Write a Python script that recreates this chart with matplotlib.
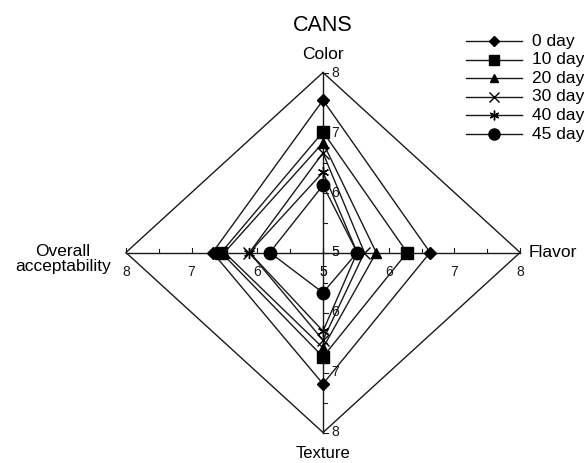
import matplotlib
matplotlib.use("Agg")
import matplotlib.pyplot as plt
import numpy as np

plt.rcParams['font.family'] = ['Liberation Sans', 'DejaVu Sans']

title = "CANS"
attributes = ["Color", "Flavor", "Texture", "Overall\nacceptability"]
series = ["0 day", "10 day", "20 day", "30 day", "40 day", "45 day"]
color_vals   = [7.54, 7.01, 6.83, 6.66, 6.34, 6.12]
flavor_vals  = [6.63, 6.28, 5.81, 5.63, 5.52, 5.52]
texture_vals = [7.19, 6.74, 6.59, 6.46, 6.31, 5.67]
overall_vals = [6.68, 6.55, 6.50, 6.12, 6.12, 5.81]
rmin, rmax = 5, 8
ticks = [5, 6, 7, 8]
minor = [5.5, 6.5, 7.5]
markers = ['D', 's', '^', 'x', (6, 2, 0), 'o']
msizes = [6.5, 8, 7, 8, 8, 9]
leg_msizes = [5.5, 7, 6, 7, 7, 8]

W, H = 584, 463
cx, cy = 323, 252.5
ux, uy = 65.7, 60.0
ink = '#1a1a1a'

fig = plt.figure(figsize=(W / 100, H / 100), dpi=100)
ax = fig.add_axes([0, 0, 1, 1])
ax.set_xlim(-cx / ux, (W - cx) / ux)
ax.set_ylim(-(H - cy) / uy, cy / uy)
ax.axis('off')

# directions: Color up, Flavor right, Texture down, Overall left
dirs = [(0, 1), (1, 0), (0, -1), (-1, 0)]

def pt(d, v):
    return d[0] * (v - rmin), d[1] * (v - rmin)

# outer grid
outer = [pt(d, rmax) for d in dirs] + [pt(dirs[0], rmax)]
ax.plot([p[0] for p in outer], [p[1] for p in outer], color=ink, lw=1.0, zorder=1)

# axes spokes and ticks
for i, d in enumerate(dirs):
    x1, y1 = pt(d, rmax)
    ax.plot([0, x1], [0, y1], color=ink, lw=1.0, zorder=1)
    for t in ticks + minor:
        px, py = pt(d, t)
        L = 0.08 if t in ticks else 0.06
        if d[0] == 0:
            ax.plot([px, px + L * uy / ux], [py, py], color=ink, lw=0.8, zorder=1)
        else:
            ax.plot([px, px], [py, py + L], color=ink, lw=0.8, zorder=1)
    for t in ticks:
        px, py = pt(d, t)
        if d[0] == 0:
            ax.text(px + 12 / ux, py, str(t), ha='center', va='center', fontsize=10, color=ink)
        else:
            ax.text(px, py - 19 / uy, str(t), ha='center', va='center', fontsize=10, color=ink)

# series
vals = [color_vals, flavor_vals, texture_vals, overall_vals]
for k, name in enumerate(series):
    pts = [pt(dirs[i], vals[i][k]) for i in range(4)]
    pts.append(pts[0])
    xs = [p[0] for p in pts]
    ys = [p[1] for p in pts]
    ax.plot(xs, ys, color=ink, lw=1.0, marker=markers[k], ms=msizes[k],
            mfc='black', mec='black', mew=1.0, zorder=3, markevery=[0, 1, 2, 3])

# axis labels
fs_lab = 12.5
ax.text(0, (cy - 54) / uy, attributes[0], ha='center', va='center', fontsize=fs_lab)
ax.text((529 - cx) / ux, 0, attributes[1], ha='left', va='center', fontsize=fs_lab)
ax.text(0, -(454 - cy) / uy, attributes[2], ha='center', va='center', fontsize=12)
ax.text((111 - cx) / ux, -(259 - cy) / uy, attributes[3], ha='right', va='center', fontsize=fs_lab,
        multialignment='center', linespacing=1.0)
ax.text(0, (cy - 25) / uy, title, ha='center', va='center', fontsize=15.5)

# legend
ly0 = 41
dy = 18.6
for k, name in enumerate(series):
    yy = (cy - (ly0 + k * dy)) / uy
    xa, xb, xm = (466 - cx) / ux, (522 - cx) / ux, (494 - cx) / ux
    ax.plot([xa, xb], [yy, yy], color=ink, lw=1.0, zorder=3)
    ax.plot([xm], [yy], marker=markers[k], ms=leg_msizes[k], mfc='black', mec='black',
            mew=1.0, color=ink, zorder=4, linestyle='none')
    ax.text((532 - cx) / ux, yy, name, ha='left', va='center', fontsize=12.5)

fig.savefig("out.png", dpi=100)
